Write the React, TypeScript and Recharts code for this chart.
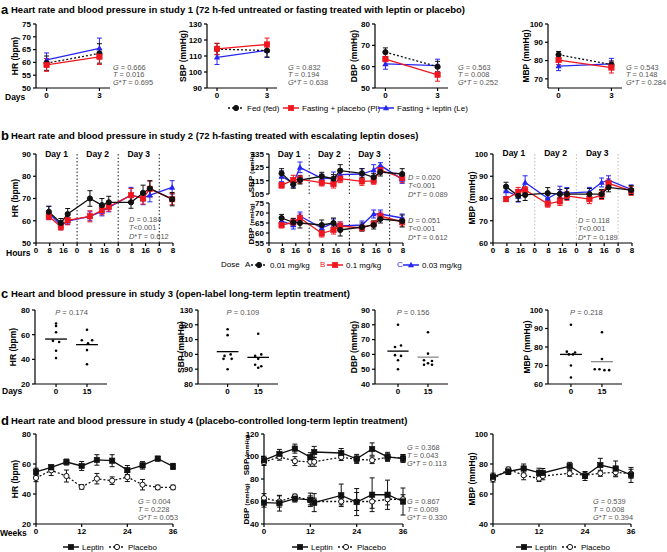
import React from 'react';
import { ComposedChart, Line, Scatter, XAxis, YAxis, ErrorBar, ReferenceLine } from 'recharts';

const F = '"Liberation Sans Narrow", "Liberation Sans", Arial, sans-serif';
const BLK = '#111';
const RED = '#f0161e';
const BLUE = '#2626f2';
const GREY = '#555';

// ---------- panel a: study 1 (days 0 and 3) ----------
const daysA = [0, 3];
const hrAFed = [59.7, 63.5];
const hrAFedE = [2.8, 3.8];
const hrAPl = [59, 62.2];
const hrAPlE = [2.5, 3];
const hrALe = [61, 65.5];
const hrALeE = [2.7, 4];
const sbpAFed = [114.3, 113.4];
const sbpAFedE = [3.5, 4];
const sbpAPl = [114.5, 117.2];
const sbpAPlE = [3.5, 4];
const sbpALe = [109.2, 113.6];
const sbpALeE = [4.5, 4.5];
const dbpAFed = [66.8, 60];
const dbpAFedE = [2, 2.5];
const dbpAPl = [63.5, 56.2];
const dbpAPlE = [3, 3];
const dbpALe = [61.3, 60.5];
const dbpALeE = [2.5, 3];
const mbpAFed = [83.2, 77.8];
const mbpAFedE = [1.8, 2];
const mbpAPl = [80.3, 76.2];
const mbpAPlE = [2.5, 3];
const mbpALe = [77, 78.2];
const mbpALeE = [2.5, 3];

// ---------- panel b: study 2 (hours) ----------
const hoursB = [7.5, 14.5, 18.5, 31.5, 38.5, 42.5, 55.5, 62.5, 66.5, 79.5];
const hourTicks = [0, 8, 16, 24, 32, 40, 48, 56, 64, 72, 80];
const dayLines = [24, 48, 72];
const dayMids = [12, 36, 60];
const hrBA = [64, 59, 63, 70, 67, 68.3, 68.3, 72.5, 74.5, 69.7];
const hrBAE = [2.5, 2, 2.5, 3.5, 3, 2.7, 2.7, 3.5, 3.5, 3];
const hrBB = [62, 57.3, 60.2, 62, 64.7, 66.3, 71.5, 70, 74.3, 69.7];
const hrBBE = [1.5, 1.5, 2, 2.5, 2, 2, 3, 2.5, 3.5, 2.5];
const hrBC = [63.5, 58, 59.8, 62, 64.2, 66, 71.5, 70.2, 71.5, 75];
const hrBCE = [3, 2, 1.5, 2, 2, 2, 3.5, 3, 3, 3];
const sbpBA = [120.5, 112.3, 115.5, 118.3, 116.5, 122.5, 120.5, 117.5, 121.5, 120];
const sbpBAE = [3.5, 3, 3, 3, 3, 4.5, 3.5, 3, 3, 4];
const sbpBB = [111.5, 115.5, 116, 113.5, 112.5, 116.5, 114.5, 114.8, 123, 117];
const sbpBBE = [2, 3.5, 3, 2.5, 3, 3, 3, 2.5, 3, 3.5];
const sbpBC = [118.3, 113, 125, 116.8, 116.5, 119.5, 120, 123, 126.5, 116];
const sbpBCE = [4, 3, 4, 3, 5, 4, 4, 4, 2, 3];
const dbpBA = [67.5, 65.3, 65, 64, 65, 61.5, 63, 64, 67, 66];
const dbpBAE = [1.8, 2, 2.5, 2.5, 2.5, 3, 2, 2, 2, 3];
const dbpBB = [64, 65.3, 67.5, 59.8, 61.5, 63.5, 62.5, 64.5, 68.5, 65.5];
const dbpBBE = [1.5, 2, 2, 1.8, 2, 2, 1.5, 1.5, 2, 2];
const dbpBC = [66, 64, 68.5, 62.5, 65, 63.5, 64, 69.5, 69.5, 67.5];
const dbpBCE = [2, 2, 2, 2, 2, 2, 2, 2, 2, 2];
const mbpBA = [85.3, 81.2, 81.6, 82.4, 82, 82, 82, 82, 85, 83.8];
const mbpBAE = [2, 2.5, 2.5, 2.5, 2, 2.5, 2.5, 2, 2, 2];
const mbpBB = [79.7, 83, 83.8, 77.6, 78.7, 81.2, 79.7, 81.6, 86.8, 83.4];
const mbpBBE = [1, 2, 1.5, 1.5, 1.8, 2, 2, 2, 2, 2];
const mbpBC = [83.4, 80.9, 87.2, 80.1, 83, 82.4, 83, 87.2, 88.2, 84.1];
const mbpBCE = [2.5, 2.5, 3, 2, 2.5, 2.5, 2, 2, 2, 2];

// ---------- panel c: study 3 (individual values, day 0 / day 15) ----------
const hrC0 = [69, 67, 62, 55, 54, 47, 41];
const hrC0j = [0, 0, 0, -1.5, 1.5, 0, 0];
const hrC15 = [64, 55.5, 55.5, 53, 47.5, 36];
const hrC15j = [0, -2.5, 2.5, 0.5, 0, 0];
const sbpC0 = [117, 113, 100, 99, 97, 97, 90];
const sbpC0j = [0, 0, 1.5, -1.5, -2, 2, 0];
const sbpC15 = [114, 100, 99, 97, 93, 92, 91];
const sbpC15j = [0, 1.5, -1.5, 0, -1.5, 1.5, 0];
const dbpC0 = [80, 66, 65, 59.5, 59, 56, 50];
const dbpC0j = [0, 1.5, -1.5, -1.5, 1.5, 0, 0];
const dbpC15 = [75, 60.5, 56, 55.5, 54, 53, 53];
const dbpC15j = [0, 0, -2, 2, 0, -2, 2];
const mbpC0 = [92, 77.5, 77, 76, 76, 70, 63.5];
const mbpC0j = [0, -2, 2, -1, 1, 0, 0];
const mbpC15 = [88, 73.5, 68, 68, 67.5, 67.5];
const mbpC15j = [0, 0, -3.5, -1.2, 1.2, 3.5];

// ---------- panel d: study 4 (weeks) ----------
const weeksHR = [0, 4, 8, 12, 16, 20, 24, 28, 32, 36];
const weeksBP = [0, 4, 8, 12, 13, 20, 24, 28, 32, 36];
const weekTicks = [0, 12, 24, 36];
const hrDLep = [54.7, 57.8, 61.3, 58.7, 62.7, 62.2, 56, 59.1, 63.6, 58.4];
const hrDLepE = [2.5, 1.5, 2, 3, 3.5, 4, 3, 2.5, 1.5, 2];
const hrDPla = [50.7, 55.8, 52, 44.7, 50.2, 48.9, 51.3, 46.2, 44.4, 44.4];
const hrDPlaE = [2.5, 3.5, 4, 1.5, 3.5, 2.5, 3, 3.5, 1.5, 1.5];
const sbpDLep = [96.7, 102.3, 107, 99.4, 104, 103.1, 97.9, 106.6, 99.7, 98.2];
const sbpDLepE = [3.5, 4, 4, 4, 5, 4, 4, 5.5, 4, 3.5];
const sbpDPla = [95, 99.7, 95.9, 95.3, 95.3, 99.4, 97.5, 96.7, 99.4, 98.8];
const sbpDPlaE = [3, 3, 4, 4, 4, 3, 3, 3, 3, 3];
const dbpDLep = [59, 58.5, 62.5, 61.5, 59, 65.5, 59.5, 66, 66, 60];
const dbpDLepE = [4, 7, 3, 6, 8, 10, 12, 15, 13, 12];
const dbpDPla = [63, 60, 64.5, 61, 60, 60, 60, 60, 62, 62];
const dbpDPlaE = [4, 5, 2, 4, 3, 3, 8, 6, 5, 4];
const mbpDLep = [71.4, 75, 77, 74.2, 74, 78.6, 72, 79.3, 77, 72.7];
const mbpDLepE = [2.5, 2, 3, 3, 3, 2.5, 3, 4.5, 5, 5];
const mbpDPla = [70, 76.4, 72.5, 70.3, 72, 73.8, 72.5, 73.8, 74.5, 73.5];
const mbpDPlaE = [2, 1.5, 3, 2, 2.5, 2, 2, 2, 3, 3];

// ---------- helpers ----------
type Box = [number, number, number, number];
const YW = 30;
const XH = 16;
const PAD = 8;

const table = (xs: number[], cols: Record<string, number[]>) =>
  xs.map((x, i) => {
    const r: Record<string, number> = { x };
    Object.keys(cols).forEach((k) => (r[k] = cols[k][i]));
    return r;
  });
const tri = (xs: number[], a: number[], aE: number[], b: number[], bE: number[], c: number[], cE: number[]) =>
  table(xs, { a, aE, b, bE, c, cE });
const pts = (x: number, ys: number[], js: number[]) => ys.map((y, i) => ({ x: x + js[i], y }));
const mean = (v: number[]) => v.reduce((s, n) => s + n, 0) / v.length;

const mk = (shape: string, color: string, fill: string = color) => (p: any) => {
  const { cx, cy, index } = p;
  if (cx == null || cy == null) return <g key={index} />;
  if (shape === 'sq')
    return <rect key={index} x={cx - 2.7} y={cy - 2.7} width={5.4} height={5.4} fill={fill} stroke={color} strokeWidth={0.6} />;
  if (shape === 'tri')
    return <path key={index} d={`M${cx},${cy - 3.3}L${cx + 3.1},${cy + 2.3}L${cx - 3.1},${cy + 2.3}Z`} fill={fill} />;
  return <circle key={index} cx={cx} cy={cy} r={2.6} fill={fill} stroke={color} strokeWidth={1} />;
};

function ser(key: string, color: string, shape: string, o: { dash?: string; fill?: string; bar?: string } = {}) {
  return (
    <Line
      key={key}
      type="linear"
      dataKey={key}
      stroke={color}
      strokeWidth={1.3}
      strokeDasharray={o.dash}
      dot={mk(shape, color, o.fill)}
      activeDot={false}
      isAnimationActive={false}
      connectNulls
    >
      <ErrorBar dataKey={key + 'E'} width={2.5} stroke={o.bar ?? color} strokeWidth={1} direction="y" />
    </Line>
  );
}

const AX = { stroke: '#000', strokeWidth: 1.2 };
const TICK = { fontSize: 8, fontWeight: 700, fill: '#000', fontFamily: F };
const yAx = (domain: number[], ticks: number[]) => (
  <YAxis key="y" type="number" domain={domain} ticks={ticks} width={YW} axisLine={AX} tickLine={AX} tickSize={3} tickMargin={2} tick={TICK} interval={0} />
);
const xAx = (domain: number[], ticks: number[], fmt?: (v: number) => string, hide?: boolean) => (
  <XAxis
    key="x"
    type="number"
    dataKey="x"
    domain={domain}
    ticks={ticks}
    height={XH}
    axisLine={AX}
    tickLine={AX}
    tickSize={3}
    tickMargin={1}
    tick={TICK}
    interval={0}
    tickFormatter={fmt}
    hide={hide}
  />
);

function Frame({ box, data, noX, children }: { box: Box; data?: any[]; noX?: boolean; children: React.ReactNode }) {
  const [x0, x1, y0, y1] = box;
  const w = YW + (x1 - x0) + PAD;
  const h = PAD + (y1 - y0) + (noX ? PAD : XH);
  return (
    <div style={{ position: 'absolute', left: x0 - YW, top: y0 - PAD }}>
      <ComposedChart width={w} height={h} data={data} margin={{ top: PAD, right: PAD, bottom: noX ? PAD : 0, left: 0 }}>
        {children}
      </ComposedChart>
    </div>
  );
}

function Txt({ x, y, children, size = 8, bold, color = '#000', anchor = 'start' }: any) {
  const tx = anchor === 'middle' ? '-50%' : anchor === 'end' ? '-100%' : '0';
  return (
    <div
      style={{
        position: 'absolute',
        left: x,
        top: y,
        transform: `translate(${tx}, -50%)`,
        fontSize: size,
        fontWeight: bold ? 700 : 400,
        color,
        whiteSpace: 'nowrap',
        lineHeight: 1,
        fontFamily: F,
      }}
    >
      {children}
    </div>
  );
}

function VTxt({ x, y, children, size = 8.5 }: any) {
  return (
    <div
      style={{
        position: 'absolute',
        left: x,
        top: y,
        transform: 'translate(-50%, -50%) rotate(-90deg)',
        fontSize: size,
        fontWeight: 700,
        whiteSpace: 'nowrap',
        lineHeight: 1,
        fontFamily: F,
      }}
    >
      {children}
    </div>
  );
}

const st = (k: string, v: string) => {
  if (k === 'GT') return <><i>G</i>*<i>T</i> = {v}</>;
  if (k === 'DT') return <><i>D</i>*<i>T</i> = {v}</>;
  if (k === 'T<') return <><i>T</i>&lt;{v}</>;
  return <><i>{k}</i> = {v}</>;
};

function Stat({ x, y, lines, gap = 7.8 }: { x: number; y: number; lines: [string, string][]; gap?: number }) {
  return (
    <>
      {lines.map(([k, v], i) => (
        <Txt key={i} x={x} y={y + i * gap} size={7.4} color={GREY}>
          {st(k, v)}
        </Txt>
      ))}
    </>
  );
}

function Icon({ color, shape, dash, fill }: { color: string; shape: string; dash?: string; fill?: string }) {
  const m = mk(shape, color, fill);
  return (
    <svg width={16} height={9} style={{ display: 'block' }}>
      <line x1={0} y1={4.5} x2={16} y2={4.5} stroke={color} strokeWidth={1.3} strokeDasharray={dash} />
      {m({ cx: 8, cy: 4.5, index: 0 })}
    </svg>
  );
}

function Key({ x, y, label, ...icon }: any) {
  return (
    <div style={{ position: 'absolute', left: x, top: y, transform: 'translateY(-50%)', display: 'flex', alignItems: 'center', gap: 3, fontFamily: F, fontSize: 8, whiteSpace: 'nowrap' }}>
      <Icon {...icon} />
      <span>{label}</span>
    </div>
  );
}

function Title({ y, letter, text }: { y: number; letter: string; text: string }) {
  return (
    <>
      <Txt x={1} y={y - 1} size={13} bold>{letter}</Txt>
      <Txt x={11} y={y} size={9.5} bold>{text}</Txt>
    </>
  );
}

const mm = (name: string) => (
  <>
    {name} <span style={{ fontSize: 5.8 }}>(mmHg)</span>
  </>
);

// ---------- chart builders ----------
const domA = [-0.6, 3.6];
function PanelA({ box, data, y, yt, label, lx, sx, stats }: any) {
  return (
    <>
      <Frame box={box} data={data}>
        {xAx(domA, daysA)}
        {yAx(y, yt)}
        {ser('c', BLUE, 'tri')}
        {ser('a', BLK, 'circ', { dash: '2 2' })}
        {ser('b', RED, 'sq')}
      </Frame>
      <VTxt x={lx} y={56}>{label}</VTxt>
      <Stat x={sx} y={67.5} lines={stats} />
    </>
  );
}

function bLines(grey?: boolean) {
  return dayLines.map((h) => (
    <ReferenceLine key={'v' + h} x={h} stroke={grey ? '#c4c4c4' : '#333'} strokeWidth={1.1} strokeDasharray="1.5 2" />
  ));
}
const bSeries = () => [ser('c', BLUE, 'tri'), ser('b', RED, 'sq'), ser('a', BLK, 'circ')];
const hmod = (v: number) => String(v % 24);

function DayLabels({ box, y }: { box: Box; y: number }) {
  const [x0, x1] = box;
  return (
    <>
      {dayMids.map((h, i) => (
        <Txt key={h} x={x0 + (h / 80) * (x1 - x0)} y={y} size={8.5} bold anchor="middle">
          Day {i + 1}
        </Txt>
      ))}
    </>
  );
}

function PanelC({ box, dom, y, yt, d0, j0, d15, j15, label, lx, p, grey15 }: any) {
  const dot = (q: any) => <circle cx={q.cx} cy={q.cy} r={1.3} fill="#000" />;
  const m0 = mean(d0);
  const m15 = mean(d15);
  const [x0, x1] = box;
  const px = x0 + ((7.5 - dom[0]) / (dom[1] - dom[0])) * (x1 - x0);
  return (
    <>
      <Frame box={box}>
        {xAx(dom, [0, 15])}
        {yAx(y, yt)}
        <Scatter data={pts(0, d0, j0)} dataKey="y" shape={dot} isAnimationActive={false} />
        <Scatter data={pts(15, d15, j15)} dataKey="y" shape={dot} isAnimationActive={false} />
        <ReferenceLine segment={[{ x: -5.3, y: m0 }, { x: 5.3, y: m0 }]} stroke="#000" strokeWidth={1.3} />
        <ReferenceLine segment={[{ x: 9.7, y: m15 }, { x: 20.3, y: m15 }]} stroke={grey15 ? '#8a8a8a' : '#000'} strokeWidth={1.3} />
      </Frame>
      <VTxt x={lx} y={347}>{label}</VTxt>
      <Txt x={px} y={313} size={7.6} color={GREY} anchor="middle">
        <i>P</i> = {p}
      </Txt>
    </>
  );
}

const dSeries = (l: string, p: string) => [
  ser(p, BLK, 'circ', { dash: '2 2', fill: '#fff' }),
  ser(l, BLK, 'sq'),
];

function DKeys({ x }: { x: number }) {
  return (
    <>
      <Key x={x} y={547} color={BLK} shape="sq" label="Leptin" />
      <Key x={x + 46} y={547} color={BLK} shape="circ" dash="2 2" fill="#fff" label="Placebo" />
    </>
  );
}

export default function App() {
  const hrA = tri(daysA, hrAFed, hrAFedE, hrAPl, hrAPlE, hrALe, hrALeE);
  const sbpA = tri(daysA, sbpAFed, sbpAFedE, sbpAPl, sbpAPlE, sbpALe, sbpALeE);
  const dbpA = tri(daysA, dbpAFed, dbpAFedE, dbpAPl, dbpAPlE, dbpALe, dbpALeE);
  const mbpA = tri(daysA, mbpAFed, mbpAFedE, mbpAPl, mbpAPlE, mbpALe, mbpALeE);

  const hrB = tri(hoursB, hrBA, hrBAE, hrBB, hrBBE, hrBC, hrBCE);
  const sbpB = tri(hoursB, sbpBA, sbpBAE, sbpBB, sbpBBE, sbpBC, sbpBCE);
  const dbpB = tri(hoursB, dbpBA, dbpBAE, dbpBB, dbpBBE, dbpBC, dbpBCE);
  const mbpB = tri(hoursB, mbpBA, mbpBAE, mbpBB, mbpBBE, mbpBC, mbpBCE);

  const hrD = table(weeksHR, { l: hrDLep, lE: hrDLepE, p: hrDPla, pE: hrDPlaE });
  const bpD = table(weeksBP, {
    sl: sbpDLep, slE: sbpDLepE, sp: sbpDPla, spE: sbpDPlaE,
    dl: dbpDLep, dlE: dbpDLepE, dp: dbpDPla, dpE: dbpDPlaE,
  });
  const mbpD = table(weeksBP, { l: mbpDLep, lE: mbpDLepE, p: mbpDPla, pE: mbpDPlaE });

  const bHR: Box = [36, 173, 154, 243];
  const bSBP: Box = [269, 403, 154, 194];
  const bDBP: Box = [269, 403, 203, 243];
  const bMBP: Box = [493, 632, 154, 243];

  return (
    <div style={{ position: 'absolute', left: 0, top: 0, width: 667, height: 552, background: '#fff', overflow: 'hidden', fontFamily: F }}>
      {/* ---------------- a ---------------- */}
      <Title y={10} letter="a" text="Heart rate and blood pressure in study 1 (72 h-fed untreated or fasting treated with leptin or placebo)" />
      <PanelA box={[36, 110, 24, 88]} data={hrA} y={[50, 75]} yt={[50, 55, 60, 65, 70, 75]} label="HR (bpm)" lx={15} sx={113}
        stats={[['G', '0.666'], ['T', '0.016'], ['GT', '0.695']]} />
      <PanelA box={[207, 277, 24, 88]} data={sbpA} y={[90, 130]} yt={[90, 100, 110, 120, 130]} label="SBP (mmHg)" lx={183} sx={288}
        stats={[['G', '0.832'], ['T', '0.194'], ['GT', '0.638']]} />
      <PanelA box={[375, 448, 24, 88]} data={dbpA} y={[50, 80]} yt={[50, 60, 70, 80]} label="DBP (mmHg)" lx={354} sx={458}
        stats={[['G', '0.563'], ['T', '0.008'], ['GT', '0.252']]} />
      <PanelA box={[548, 622, 24, 88]} data={mbpA} y={[65, 100]} yt={[70, 80, 90, 100]} label="MBP (mmHg)" lx={526} sx={626}
        stats={[['G', '0.543'], ['T', '0.148'], ['GT', '0.284']]} />
      <Txt x={5} y={97} size={8.5} bold>Days</Txt>
      <Key x={228} y={108} color={BLK} shape="circ" dash="2 2" label="Fed (fed)" />
      <Key x={283} y={108} color={RED} shape="sq" label="Fasting + placebo (Pl)" />
      <Key x={378} y={108} color={BLUE} shape="tri" label="Fasting + leptin (Le)" />

      {/* ---------------- b ---------------- */}
      <Title y={136} letter="b" text="Heart rate and blood pressure in study 2 (72 h-fasting treated with escalating leptin doses)" />
      <Frame box={bHR} data={hrB}>
        {xAx([0, 80], hourTicks, hmod)}
        {yAx([50, 90], [50, 60, 70, 80, 90])}
        {bLines()}
        {bSeries()}
      </Frame>
      <DayLabels box={bHR} y={154} />
      <VTxt x={15} y={198}>HR (bpm)</VTxt>
      <Stat x={129} y={220} lines={[['D', '0.184'], ['T<', '0.001'], ['DT', '0.612']]} gap={8.3} />
      <Txt x={6} y={253} size={8.5} bold>Hours</Txt>

      <Frame box={bSBP} data={sbpB} noX>
        {xAx([0, 80], hourTicks, hmod, true)}
        {yAx([105, 135], [105, 115, 125, 135])}
        {bLines()}
        {bSeries()}
      </Frame>
      <Frame box={bDBP} data={dbpB}>
        {xAx([0, 80], hourTicks, hmod)}
        {yAx([55, 75], [55, 60, 65, 70, 75])}
        {bLines()}
        {bSeries()}
      </Frame>
      <DayLabels box={bSBP} y={154} />
      <VTxt x={252} y={172} size={8}>{mm('SBP')}</VTxt>
      <VTxt x={252} y={224} size={8}>{mm('DBP')}</VTxt>
      <Stat x={408} y={178} lines={[['D', '0.020'], ['T<', '0.001'], ['DT', '0.089']]} gap={8.3} />
      <Stat x={408} y={221} lines={[['D', '0.051'], ['T<', '0.001'], ['DT', '0.612']]} gap={8.3} />

      <Frame box={bMBP} data={mbpB}>
        {xAx([0, 80], hourTicks, hmod)}
        {yAx([60, 100], [60, 70, 80, 90, 100])}
        {bLines(true)}
        {bSeries()}
      </Frame>
      <DayLabels box={bMBP} y={153} />
      <VTxt x={472} y={198}>MBP (mmHg)</VTxt>
      <Stat x={578} y={221} lines={[['D', '0.118'], ['T<', '0.001'], ['DT', '0.189']]} gap={8.3} />

      <Txt x={221} y={265} size={8}>Dose</Txt>
      <Txt x={245} y={265} size={8}>A</Txt>
      <Key x={251} y={265} color={BLK} shape="circ" dash="2 2" label="0.01 mg/kg" />
      <Txt x={320} y={265} size={8} color={RED}>B</Txt>
      <Key x={327} y={265} color={RED} shape="sq" label="0.1 mg/kg" />
      <Txt x={397} y={265} size={8} color={BLUE}>C</Txt>
      <Key x={403} y={265} color={BLUE} shape="tri" label="0.03 mg/kg" />

      {/* ---------------- c ---------------- */}
      <Title y={294} letter="c" text="Heart and blood pressure in study 3 (open-label long-term leptin treatment)" />
      <PanelC box={[35, 107, 310, 384]} dom={[-10.2, 24.7]} y={[20, 80]} yt={[20, 40, 60, 80]} d0={hrC0} j0={hrC0j} d15={hrC15} j15={hrC15j}
        label="HR (bpm)" lx={13} p="0.174" />
      <PanelC box={[198, 278, 310, 384]} dom={[-14.5, 24.7]} y={[80, 130]} yt={[80, 90, 100, 110, 120, 130]} d0={sbpC0} j0={sbpC0j} d15={sbpC15} j15={sbpC15j}
        label="SBP (mmHg)" lx={181} p="0.109" />
      <PanelC box={[375, 448, 310, 384]} dom={[-11.5, 25]} y={[40, 90]} yt={[40, 50, 60, 70, 80, 90]} d0={dbpC0} j0={dbpC0j} d15={dbpC15} j15={dbpC15j}
        label="DBP (mmHg)" lx={354} p="0.156" grey15 />
      <PanelC box={[548, 622, 310, 384]} dom={[-11.1, 24.7]} y={[60, 100]} yt={[60, 70, 80, 90, 100]} d0={mbpC0} j0={mbpC0j} d15={mbpC15} j15={mbpC15j}
        label="MBP (mmHg)" lx={527} p="0.218" grey15 />
      <Txt x={2} y={391} size={8.5} bold>Days</Txt>

      {/* ---------------- d ---------------- */}
      <Title y={421} letter="d" text="Heart rate and blood pressure in study 4 (placebo-controlled long-term leptin treatment)" />
      <Frame box={[36, 173, 434, 524]} data={hrD}>
        {xAx([0, 36], weekTicks)}
        {yAx([20, 80], [20, 40, 60, 80])}
        {dSeries('l', 'p')}
      </Frame>
      <VTxt x={15} y={479}>HR (bpm)</VTxt>
      <Stat x={138} y={502} lines={[['G', '0.004'], ['T', '0.228'], ['GT', '0.053']]} />
      <Txt x={0} y={533} size={8.5} bold>Weeks</Txt>
      <DKeys x={63} />

      <Frame box={[264, 403, 434, 524]} data={bpD}>
        {xAx([0, 36], weekTicks)}
        {yAx([40, 120], [40, 60, 80, 100, 120])}
        {dSeries('sl', 'sp')}
        {dSeries('dl', 'dp')}
      </Frame>
      <VTxt x={247} y={455} size={8}>{mm('SBP')}</VTxt>
      <VTxt x={247} y={504} size={8}>{mm('DBP')}</VTxt>
      <Stat x={407} y={448} lines={[['G', '0.368'], ['T', '0.043'], ['GT', '0.113']]} />
      <Stat x={407} y={502} lines={[['G', '0.867'], ['T', '0.009'], ['GT', '0.330']]} />
      <DKeys x={292} />

      <Frame box={[493, 631, 434, 524]} data={mbpD}>
        {xAx([0, 36], weekTicks)}
        {yAx([40, 100], [40, 60, 80, 100])}
        {dSeries('l', 'p')}
      </Frame>
      <VTxt x={472} y={479}>MBP (mmHg)</VTxt>
      <Stat x={593} y={502} lines={[['G', '0.539'], ['T', '0.008'], ['GT', '0.394']]} />
      <DKeys x={516} />
    </div>
  );
}
